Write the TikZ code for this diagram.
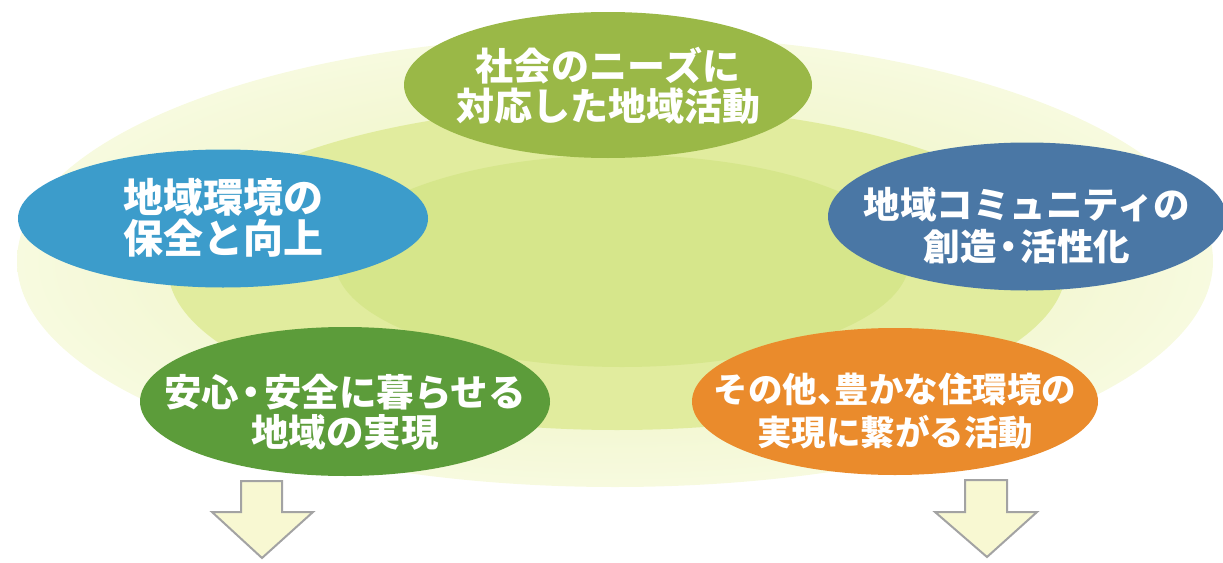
\documentclass[tikz,border=0pt]{standalone}
\usepackage{fontspec}
\setmainfont{Noto Sans CJK JP}
\usetikzlibrary{shapes.geometric}
\newcommand\mydot{\kern0.08em{\addfontfeature{RawFeature=+palt}・}\kern0.08em}
\newcommand\mycomma{{\addfontfeature{RawFeature=+palt}、}}
\definecolor{bgOuter}{HTML}{E9F2B4}
\definecolor{bgOuterEdge}{HTML}{F7FADF}
\definecolor{bgMid}{HTML}{E1EC9E}
\definecolor{bgInner}{HTML}{D6E68B}
\definecolor{cTop}{HTML}{9AB847}
\definecolor{cBlue}{HTML}{3C9CCB}
\definecolor{cNavy}{HTML}{4A77A5}
\definecolor{cGreen}{HTML}{5C9C3A}
\definecolor{cOrange}{HTML}{EA8B2C}
\definecolor{arrowFill}{HTML}{F8F8D2}
\definecolor{arrowLine}{HTML}{A3A3A3}
\begin{document}
\begin{tikzpicture}[x=1pt,y=-1pt,
  topic/.style={ellipse, inner sep=0pt, draw=none},
  topictext/.style={text=white, align=center, inner sep=0pt},
  downarrow/.style={draw=arrowLine, fill=arrowFill, line width=2pt, line join=miter}]
\useasboundingbox (0,0) rectangle (1223,562);
\clip (0,0) rectangle (1223,562);
% background rings
\shade[inner color=bgOuter, outer color=bgOuterEdge] (615,261) ellipse [x radius=598, y radius=226];
\fill[bgMid] (617,268) ellipse [x radius=449, y radius=162];
\fill[bgInner] (622,261) ellipse [x radius=287, y radius=106];
% topic ellipses
\node[topic, fill=cTop, minimum width=408, minimum height=146,
  label={[topictext, yshift=-1pt, font=\bfseries\fontsize{38}{40}\selectfont]center:社会のニーズに\\対応した地域活動}]
  (needs) at (608,85) {};
\node[topic, fill=cBlue, minimum width=410, minimum height=138,
  label={[topictext, yshift=1pt, font=\bfseries\fontsize{40}{41}\selectfont]center:地域環境の\\保全と向上}]
  (env) at (223,218.5) {};
\node[topic, fill=cNavy, minimum width=398, minimum height=148,
  label={[topictext, yshift=-9.5pt, font=\bfseries\fontsize{36.5}{42}\selectfont]center:地域コミュニティの\\創造\mydot 活性化}]
  (comm) at (1027,216.5) {};
\node[topic, fill=cGreen, minimum width=410, minimum height=149,
  label={[topictext, yshift=-11pt, font=\bfseries\fontsize{37.5}{40}\selectfont]center:安心\mydot 安全に暮らせる\\地域の実現}]
  (safe) at (345,401.5) {};
\node[topic, fill=cOrange, minimum width=406, minimum height=147,
  label={[topictext, yshift=-10pt, font=\bfseries\fontsize{34.5}{43}\selectfont]center:その他\mycomma 豊かな住環境の\\実現に繋がる活動}]
  (other) at (895,401.5) {};
% down arrows
\draw[downarrow] (241,481) -- (282,481) -- (282,512) -- (313,512) -- (262,558) -- (212,512) -- (241,512) -- cycle;
\draw[downarrow] (965,480) -- (1007,480) -- (1007,512) -- (1037,512) -- (987,557) -- (935,512) -- (965,512) -- cycle;
\end{tikzpicture}
\end{document}
